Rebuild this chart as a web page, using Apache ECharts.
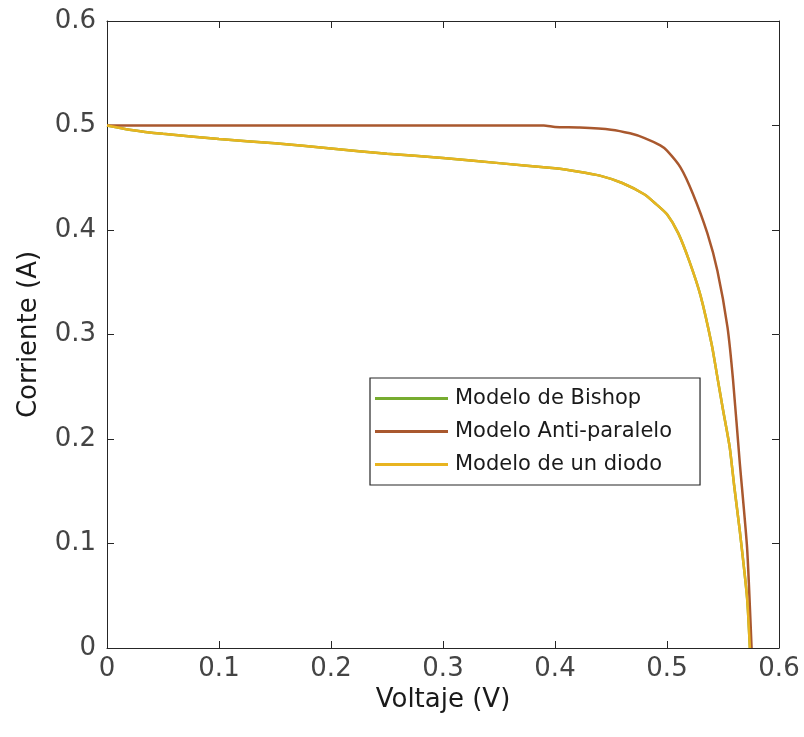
<!DOCTYPE html>
<html>
<head>
<meta charset="utf-8">
<script src="https://cdn.jsdelivr.net/npm/echarts@6/dist/echarts.min.js"></script>
<style>
  html, body { margin: 0; padding: 0; background: #fff; }
  #chart { width: 804px; height: 737px; }
</style>
</head>
<body>
<div id="chart"></div>
<script>
// curvas I-V
const seriesNames = ["Modelo de Bishop", "Modelo Anti-paralelo", "Modelo de un diodo"];

const voltajeDiodo = [0, 0.02, 0.05, 0.1, 0.15, 0.2, 0.25, 0.3, 0.35, 0.4, 0.42, 0.44, 0.46, 0.48, 0.49, 0.5, 0.51, 0.52, 0.53, 0.54, 0.545, 0.55, 0.556, 0.56, 0.565, 0.5715, 0.574];
const corrienteDiodo = [0.5, 0.496, 0.492, 0.487, 0.483, 0.478, 0.473, 0.469, 0.464, 0.459, 0.456, 0.452, 0.445, 0.434, 0.425, 0.415, 0.397, 0.370, 0.337, 0.290, 0.259, 0.228, 0.192, 0.155, 0.112, 0.048, 0.0];

// Bishop coincide con el modelo de un diodo (queda oculto debajo)
const voltajeBishop = [0, 0.02, 0.05, 0.1, 0.15, 0.2, 0.25, 0.3, 0.35, 0.4, 0.42, 0.44, 0.46, 0.48, 0.49, 0.5, 0.51, 0.52, 0.53, 0.54, 0.545, 0.55, 0.556, 0.56, 0.565, 0.5715, 0.574];
const corrienteBishop = [0.5, 0.496, 0.492, 0.487, 0.483, 0.478, 0.473, 0.469, 0.464, 0.459, 0.456, 0.452, 0.445, 0.434, 0.425, 0.415, 0.397, 0.370, 0.337, 0.290, 0.259, 0.228, 0.192, 0.155, 0.112, 0.048, 0.0];

const voltajeAnti = [0, 0.1, 0.2, 0.3, 0.39, 0.40, 0.422, 0.45, 0.467, 0.48, 0.494, 0.50, 0.512, 0.523, 0.536, 0.545, 0.554, 0.559, 0.565, 0.5715, 0.5755];
const corrienteAnti = [0.5, 0.5, 0.5, 0.5, 0.5, 0.4985, 0.498, 0.496, 0.4925, 0.488, 0.481, 0.476, 0.460, 0.435, 0.397, 0.361, 0.307, 0.256, 0.177, 0.096, 0.0];

const colors = ["#77AC30", "#A9582E", "#E8B420"];

function pairs(xs, ys) {
  return xs.map((x, i) => [x, ys[i]]);
}

const fontFam = "DejaVu Sans, sans-serif";
const axisCol = "#262626";

// eje con marcas hacia dentro (estilo box on)
function boxAxis(pos) {
  return {
    type: "value", min: 0, max: 0.6, interval: 0.1, position: pos,
    axisLine: { show: true, onZero: false, lineStyle: { color: axisCol } },
    axisTick: { show: true, inside: true, length: 7, lineStyle: { color: axisCol } },
    axisLabel: { show: false }, splitLine: { show: false }
  };
}

let mychart = echarts.init(document.getElementById("chart"));
mychart.setOption({
  animation: false,
  backgroundColor: "#fff",
  color: colors,
  grid: { left: 107, top: 21, right: 25, bottom: 89 },
  legend: {
    orient: "vertical",
    left: 370, top: 378,
    data: seriesNames,
    icon: "rect",
    itemWidth: 73, itemHeight: 3, itemGap: 12,
    padding: [10, 28, 10, 5],
    backgroundColor: "#fff",
    borderColor: axisCol, borderWidth: 1.2,
    textStyle: { fontSize: 21, color: "#1a1a1a", fontFamily: fontFam, padding: [0, 0, 0, 2] }
  },
  xAxis: [
    Object.assign(boxAxis("bottom"), {
      name: "Voltaje (V)", nameLocation: "middle", nameGap: 29,
      nameTextStyle: { fontSize: 26, color: "#1a1a1a", fontFamily: fontFam },
      axisLabel: { show: true, fontSize: 26, color: "#444", fontFamily: fontFam, margin: 8,
        formatter: v => String(+v.toFixed(1)) }
    }),
    boxAxis("top")
  ],
  yAxis: [
    Object.assign(boxAxis("left"), {
      name: "Corriente (A)", nameLocation: "middle", nameGap: 65,
      nameTextStyle: { fontSize: 26, color: "#1a1a1a", fontFamily: fontFam },
      axisLabel: { show: true, fontSize: 26, color: "#444", fontFamily: fontFam, margin: 11,
        formatter: v => String(+v.toFixed(1)) }
    }),
    boxAxis("right")
  ],
  series: [
    {
      name: seriesNames[0], type: "line", symbol: "none", smooth: 0.2,
      lineStyle: { width: 2.5, color: colors[0] },
      data: pairs(voltajeBishop, corrienteBishop)
    },
    {
      name: seriesNames[1], type: "line", symbol: "none", smooth: 0.2,
      lineStyle: { width: 2.5, color: colors[1] },
      data: pairs(voltajeAnti, corrienteAnti)
    },
    {
      name: seriesNames[2], type: "line", symbol: "none", smooth: 0.2,
      lineStyle: { width: 2.5, color: colors[2] },
      data: pairs(voltajeDiodo, corrienteDiodo)
    }
  ]
});
</script>
</body>
</html>
